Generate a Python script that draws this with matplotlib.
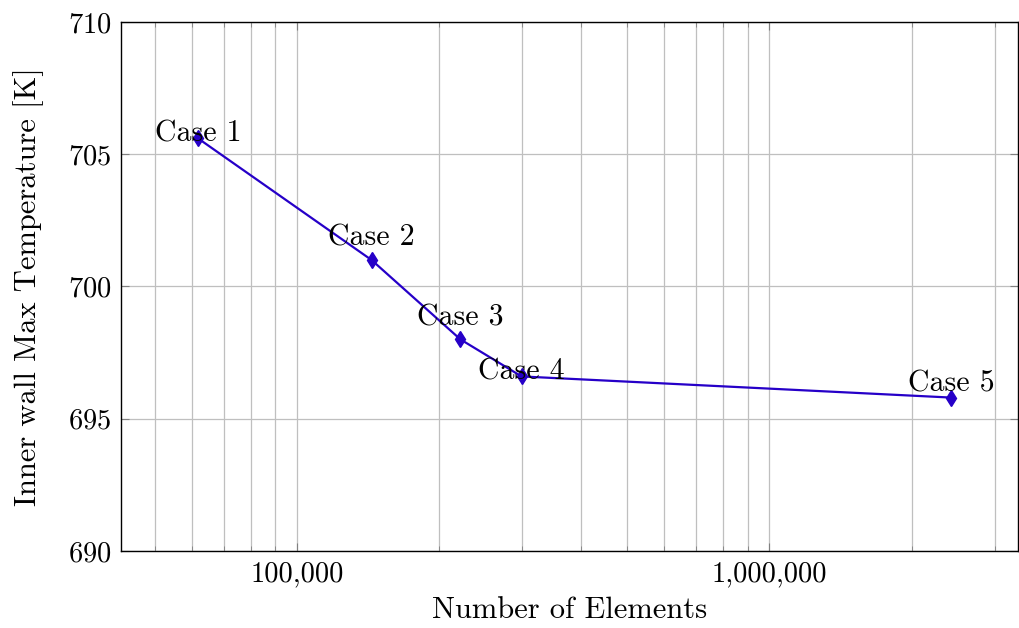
import matplotlib
matplotlib.use("Agg")
import matplotlib.pyplot as plt
from matplotlib.ticker import FuncFormatter, LogLocator, NullFormatter

plt.rcParams["font.family"] = "serif"
plt.rcParams["font.serif"] = ["cmr10"]
plt.rcParams["mathtext.fontset"] = "cm"
plt.rcParams["axes.formatter.use_mathtext"] = True

# Données du maillage
casos = ["Case 1", "Case 2", "Case 3", "Case 4", "Case 5"]
elementos = [61800, 144000, 222000, 299000, 2430000]
temperaturas = [705.6, 701.0, 698.0, 696.6, 695.8]

y_ticks = [690, 695, 700, 705, 710]
x_ticks = [100000, 1000000]

# décalage vertical des étiquettes (points)
desloc = [3.6, 15.8, 15.8, 3.6, 10.0]


def main():
    fig = plt.figure(figsize=(10.19, 6.28), dpi=100)
    ax = fig.add_axes([0.1187, 0.1226, 0.8803, 0.8424])

    cor = "#2600c8"
    ax.plot(elementos, temperaturas, "-", color=cor, lw=1.6, zorder=3)
    ax.plot(elementos, temperaturas, "d", color=cor, markersize=8, zorder=4)
    for c, x, y, d in zip(casos, elementos, temperaturas, desloc):
        ax.annotate(c, (x, y), xytext=(0, d), textcoords="offset points",
                    ha="center", va="center", fontsize=21.5, zorder=5)

    ax.set_xscale("log")
    ax.set_xlim(42450, 3360000)
    ax.set_ylim(690, 710)
    ax.set_yticks(y_ticks)
    ax.set_xticks(x_ticks)
    ax.xaxis.set_major_formatter(FuncFormatter(lambda v, p: f"{int(round(v)):,}"))
    ax.xaxis.set_minor_locator(LogLocator(base=10, subs=range(2, 10)))
    ax.xaxis.set_minor_formatter(NullFormatter())

    ax.grid(True, which="major", color="#bfbfbf", lw=0.9)
    ax.grid(True, which="minor", axis="x", color="#bfbfbf", lw=0.9)
    ax.set_axisbelow(True)

    ax.tick_params(which="both", direction="in", top=True, right=True,
                   labelsize=20.5, color="#808080")
    ax.tick_params(which="major", length=6, pad=7)
    ax.tick_params(which="minor", length=3.5)
    for s in ax.spines.values():
        s.set_linewidth(1.0)

    ax.set_xlabel("Number of Elements", fontsize=22, labelpad=7)
    ax.set_ylabel("Inner wall Max Temperature [K]", fontsize=22, labelpad=17)

    fig.savefig("out.png", dpi=100)


if __name__ == "__main__":
    main()
